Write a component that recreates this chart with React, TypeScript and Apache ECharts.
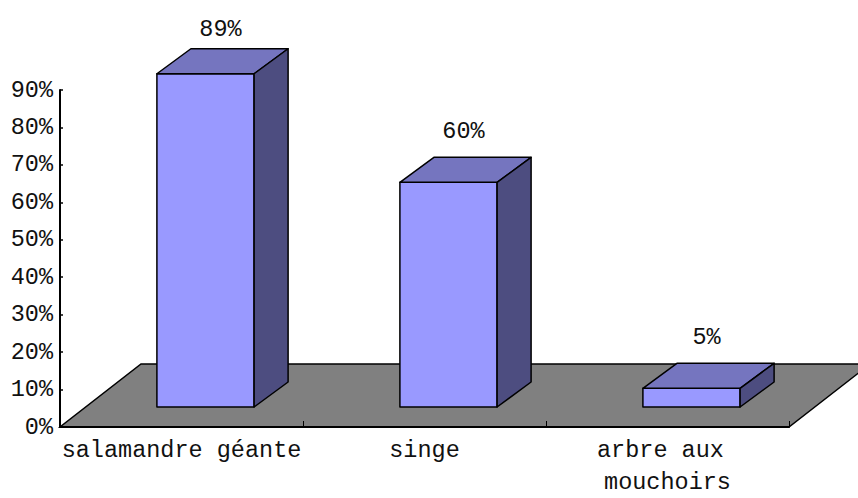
import React, { useEffect, useRef } from "react";
import * as echarts from "echarts";

const categories = ["salamandre géante", "singe", "arbre aux mouchoirs"];
const values = [89, 60, 5];
const yTicks = [0, 10, 20, 30, 40, 50, 60, 70, 80, 90];

const FONT = "Liberation Mono";

export default function App() {
  const ref = useRef<HTMLDivElement>(null);
  useEffect(() => {
    if (!ref.current) return;
    const chart = echarts.init(ref.current, undefined, { renderer: "svg" });
    const FLOOR_DX = 81;
    const FLOOR_DY = -63;
    const SX = 24;
    const SY = -20;
    const DX = 34;
    const DY = -25;
    chart.setOption({
      animation: false,
      backgroundColor: "#ffffff",
      grid: { left: 60, right: 69, top: 90, bottom: 66, containLabel: false },
      xAxis: {
        type: "category",
        data: categories,
        boundaryGap: true,
        axisLine: { show: true, lineStyle: { color: "#000", width: 2 } },
        axisTick: { show: true, inside: true, length: 6, lineStyle: { color: "#000", width: 1 } },
        axisLabel: {
          color: "#111",
          fontFamily: FONT,
          fontSize: 23.5,
          lineHeight: 32,
          margin: 7,
          width: 250,
          overflow: "break",
          interval: 0,
        },
        z: 10,
      },
      yAxis: {
        type: "value",
        min: yTicks[0],
        max: yTicks[yTicks.length - 1],
        interval: 10,
        axisLine: { show: true, lineStyle: { color: "#000", width: 2 } },
        axisTick: { show: true, inside: true, length: 3, lineStyle: { color: "#000", width: 1.5 } },
        splitLine: { show: false },
        axisLabel: {
          color: "#111",
          fontFamily: FONT,
          fontSize: 23.5,
          margin: 7,
          formatter: (v: number) => `${v}%`,
        },
        z: 10,
      },
      series: [
        {
          type: "custom",
          name: "floor",
          clip: false,
          z: 1,
          silent: true,
          data: [0],
          renderItem: (params: any, api: any) => {
            const cs = params.coordSys;
            const x0 = cs.x;
            const x1 = cs.x + cs.width;
            const y0 = cs.y + cs.height;
            return {
              type: "polygon",
              shape: {
                points: [
                  [x0, y0],
                  [x1, y0],
                  [x1 + FLOOR_DX, y0 + FLOOR_DY],
                  [x0 + FLOOR_DX, y0 + FLOOR_DY],
                ],
              },
              style: { fill: "#808080", stroke: "#000", lineWidth: 1.5 },
            };
          },
        },
        {
          type: "custom",
          name: "bars",
          clip: false,
          z: 5,
          data: values.map((v, i) => [i, v]),
          renderItem: (params: any, api: any) => {
            const i = api.value(0);
            const v = api.value(1);
            const base = api.coord([i, 0]);
            const top = api.coord([i, v]);
            const bw = api.size([1, 0])[0];
            const w = bw * 0.4;
            const xa = base[0] + SX - w / 2;
            const xb = xa + w;
            const yb = base[1] + SY;
            const yt = top[1] + SY;
            const stroke = { stroke: "#000", lineWidth: 1.5, lineJoin: "round" };
            const labelY = Math.max(yt + DY - 26, 29);
            return {
              type: "group",
              children: [
                {
                  type: "polygon",
                  shape: { points: [[xa, yt], [xb, yt], [xb, yb], [xa, yb]] },
                  style: { fill: "#9999FF", ...stroke },
                },
                {
                  type: "polygon",
                  shape: { points: [[xa, yt], [xa + DX, yt + DY], [xb + DX, yt + DY], [xb, yt]] },
                  style: { fill: "#7575BF", ...stroke },
                },
                {
                  type: "polygon",
                  shape: { points: [[xb, yt], [xb + DX, yt + DY], [xb + DX, yb + DY], [xb, yb]] },
                  style: { fill: "#4D4D80", ...stroke },
                },
                {
                  type: "text",
                  style: {
                    text: `${v}%`,
                    x: (xa + xb) / 2 + 15,
                    y: labelY,
                    textAlign: "center",
                    textVerticalAlign: "middle",
                    fill: "#111",
                    fontFamily: FONT,
                    fontSize: 23.5,
                  },
                },
              ],
            };
          },
        },
      ],
    });
    return () => chart.dispose();
  }, []);
  return (
    <div
      ref={ref}
      style={{ position: "absolute", left: 0, top: 0, width: 858, height: 498 }}
    />
  );
}
